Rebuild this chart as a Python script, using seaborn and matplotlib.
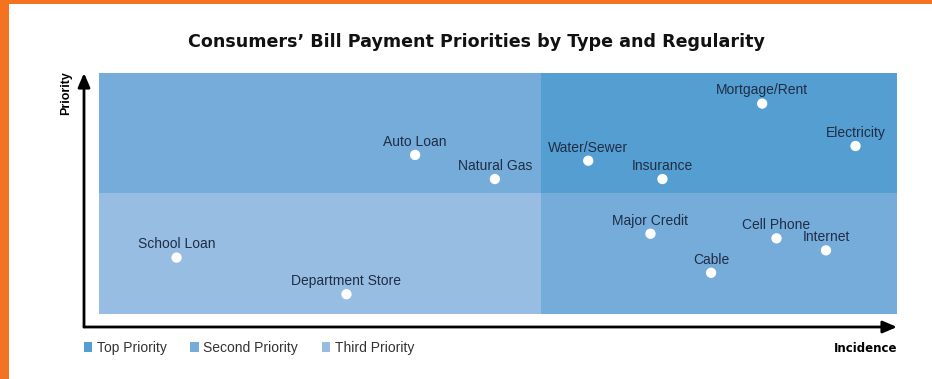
import matplotlib
matplotlib.use("Agg")
import matplotlib.pyplot as plt
from matplotlib.patches import Rectangle, Patch
import seaborn as sns
import pandas as pd

# Bill types with their incidence (x) and payment priority (y) scores
bills = ["Auto Loan", "Natural Gas", "Water/Sewer", "Insurance", "Mortgage/Rent",
         "Electricity", "School Loan", "Department Store", "Major Credit",
         "Cell Phone", "Internet", "Cable"]
incidence = [39.6, 49.6, 61.3, 70.6, 83.1, 94.8, 9.7, 31.0, 69.1, 84.9, 91.1, 76.7]
priority = [66.0, 56.0, 63.6, 56.0, 87.3, 69.7, 23.4, 8.2, 33.3, 31.4, 26.4, 17.1]

# Priority zones: boundaries of the quadrant grid
incidence_split = 55.4
priority_split = 50.0
zone_names = ["Top Priority", "Second Priority", "Third Priority"]
zone_colors = ["#559ed2", "#76acda", "#98bde2"]

df = pd.DataFrame({"bill": bills, "incidence": incidence, "priority": priority})

sns.set_theme(style="white")
plt.rcParams["font.family"] = ["Liberation Sans", "DejaVu Sans"]

fig = plt.figure(figsize=(9.32, 3.79), dpi=100)
W, H = 932, 379
ax = fig.add_axes([84 / W, 1 - 327 / H, (897 - 84) / W, (327 - 73) / H])
ax.set_xlim(-1.9, 100)
ax.set_ylim(-5.4, 100)

# Quadrant backgrounds
top_c, second_c, third_c = zone_colors
ax.add_patch(Rectangle((0, 0), incidence_split, priority_split, color=third_c, lw=0, zorder=0))
ax.add_patch(Rectangle((0, priority_split), incidence_split, 100 - priority_split,
                       color=second_c, lw=0, zorder=0))
ax.add_patch(Rectangle((incidence_split, 0), 100 - incidence_split, priority_split,
                       color=second_c, lw=0, zorder=0))
ax.add_patch(Rectangle((incidence_split, priority_split), 100 - incidence_split,
                       100 - priority_split, color=top_c, lw=0, zorder=0))

sns.scatterplot(data=df, x="incidence", y="priority", ax=ax, color="white",
                s=55, marker="o", edgecolor="none", zorder=3, legend=False)

for b, x, y in zip(bills, incidence, priority):
    ax.annotate(b, (x, y), xytext=(0, 9.5), textcoords="offset points",
                ha="center", va="center", fontsize=10, color="#1f2d45", zorder=4)

for s in ax.spines.values():
    s.set_visible(False)
ax.set_xticks([])
ax.set_yticks([])
ax.set_xlabel("")
ax.set_ylabel("")

# Axis arrows
arrow = dict(arrowstyle="-|>,head_length=0.7,head_width=0.3", lw=2, color="black",
             shrinkA=0, shrinkB=0)
ax.annotate("", xy=(0, 1), xytext=(0, 0), xycoords="axes fraction", arrowprops=arrow,
            annotation_clip=False)
ax.annotate("", xy=(1, 0), xytext=(0, 0), xycoords="axes fraction", arrowprops=arrow,
            annotation_clip=False)

fig.text(66 / W, 1 - 93 / H, "Priority", rotation=90, ha="center", va="center",
         fontsize=9, fontweight="bold", color="black")
fig.text(897 / W, 1 - 348 / H, "Incidence", ha="right", va="center",
         fontsize=8.5, fontweight="bold", color="black", family="DejaVu Sans")

fig.text(476 / W, 1 - 42 / H, "Consumers\u2019 Bill Payment Priorities by Type and Regularity",
         ha="center", va="center", fontsize=12.6, fontweight="bold", color="#111111",
         family="DejaVu Sans")

handles = [Patch(facecolor=c, edgecolor="none") for c in zone_colors]
fig.legend(handles, zone_names, loc="center left", bbox_to_anchor=(71 / W, 1 - 348 / H),
           ncol=3, frameon=False, fontsize=10, handlelength=0.6, handleheight=0.8,
           handletextpad=0.35, columnspacing=1.7, labelcolor="#333333")

# Orange frame along the left and top edges
fig.patches.append(Rectangle((0, 0), 9 / W, 1, transform=fig.transFigure,
                             color="#f47321", lw=0, zorder=10))
fig.patches.append(Rectangle((0, 1 - 4 / H), 1, 4 / H, transform=fig.transFigure,
                             color="#f47321", lw=0, zorder=10))

fig.savefig("out.png", dpi=100, facecolor="white")
